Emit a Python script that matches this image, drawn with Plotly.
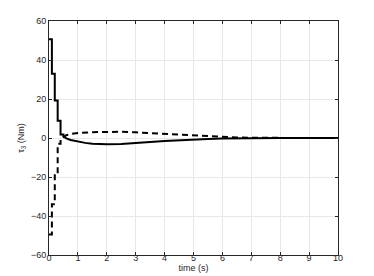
import plotly.graph_objects as go

# Solid series: stepwise start then smooth decay
t_solid = [0, 0.1, 0.1, 0.2, 0.2, 0.3, 0.3, 0.4, 0.4, 0.5, 0.5, 0.6, 0.75, 1.0, 1.25, 1.5, 2.0, 2.5, 3.0, 3.5, 4.0, 4.5, 5.0, 5.5, 6.0, 6.5, 7.0, 8.0, 9.0, 10.0]
tau_solid = [50.7, 50.7, 32.9, 32.9, 19.2, 19.2, 8.9, 8.9, 1.8, 1.8, 0.8, -0.2, -1.0, -1.9, -2.5, -2.9, -3.2, -3.1, -2.7, -2.1, -1.5, -1.1, -0.8, -0.5, -0.3, -0.15, -0.05, 0.0, 0.0, 0.0]

# Dashed series
t_dash = [0, 0.1, 0.1, 0.2, 0.2, 0.3, 0.3, 0.4, 0.4, 0.5, 0.6, 0.75, 1.0, 1.5, 2.0, 2.5, 3.0, 3.5, 4.0, 4.5, 5.0, 5.5, 6.0, 6.5, 7.0, 8.0, 9.0, 10.0]
tau_dash = [-49.5, -49.5, -34.0, -34.0, -18.2, -18.2, -3.0, -3.0, -0.5, 0.6, 1.4, 2.1, 2.6, 3.0, 3.2, 3.2, 2.9, 2.5, 2.1, 1.6, 1.2, 0.9, 0.5, 0.3, 0.1, 0.0, 0.0, 0.0]

x_ticks = list(range(0, 11))
y_ticks = [-60, -40, -20, 0, 20, 40, 60]

FONT = "Liberation Sans, Arial, sans-serif"

fig = go.Figure()
fig.add_trace(go.Scatter(x=t_solid, y=tau_solid, mode="lines",
                         line=dict(color="black", width=2)))
fig.add_trace(go.Scatter(x=t_dash, y=tau_dash, mode="lines",
                         line=dict(color="black", width=2, dash="6px,4px")))

axis_common = dict(
    showline=True, linecolor="#262626", linewidth=1, mirror="ticks",
    ticks="inside", ticklen=3, tickcolor="#262626",
    showgrid=True, gridcolor="#e8e8e8", gridwidth=1, zeroline=False,
    automargin=False,
    tickfont=dict(family=FONT, size=9, color="#262626"),
)

# page body has an 8px margin, so the figure is sized to fill the rest
fig.update_layout(
    width=366, height=268,
    margin=dict(l=41, r=36, t=13, b=21),
    paper_bgcolor="white", plot_bgcolor="white",
    showlegend=False,
    xaxis=dict(range=[0, 10], tickvals=x_ticks, ticklabelstandoff=-6,
               title=dict(text="time (s)", standoff=2,
                          font=dict(family=FONT, size=9, color="#262626")),
               **axis_common),
    yaxis=dict(range=[-60, 60], tickvals=y_ticks,
               title=dict(text="τ<sub>3</sub> (Nm)", standoff=4,
                          font=dict(family=FONT, size=9, color="#262626")),
               **axis_common),
)

fig.write_html("out.html")
